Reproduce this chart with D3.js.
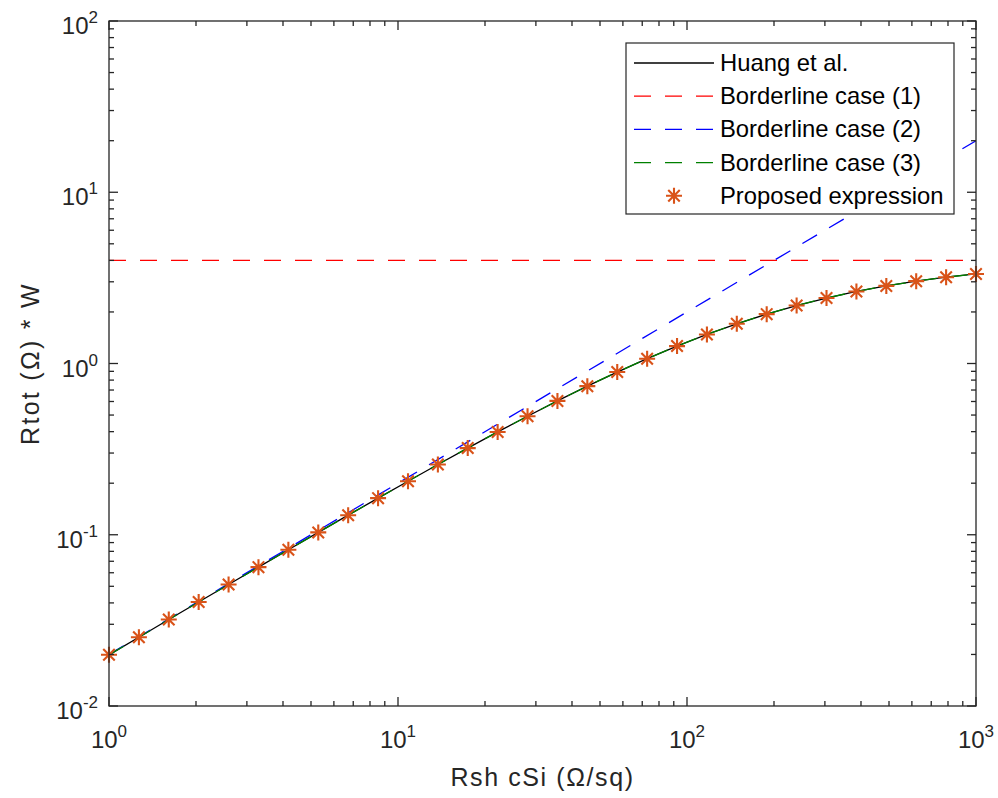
<!DOCTYPE html>
<html><head><meta charset="utf-8">
<script src="https://cdn.jsdelivr.net/npm/d3@7"></script>
<style>body{margin:0;background:#fff}svg{display:block}text{font-family:"Liberation Sans",Arial,sans-serif}</style>
</head><body><svg id="c" width="998" height="798"></svg>
<script>
// Data
const rsh = [1, 1.269, 1.610, 2.043, 2.593, 3.290, 4.175, 5.298, 6.723, 8.532,
  10.83, 13.74, 17.43, 22.12, 28.07, 35.62, 45.20, 57.36, 72.79, 92.37,
  117.2, 148.7, 188.7, 239.5, 303.9, 385.7, 489.4, 621.0, 788.1, 1000];
const huang = [0.0199, 0.0252, 0.0320, 0.0405, 0.0512, 0.0647, 0.0818, 0.1032, 0.1301, 0.1636,
  0.2054, 0.2571, 0.3207, 0.3984, 0.4923, 0.6047, 0.7374, 0.8915, 1.067, 1.264,
  1.478, 1.706, 1.942, 2.180, 2.412, 2.634, 2.839, 3.026, 3.191, 3.333];
const case1X = [1, 1000], case1Y = [4.0, 4.0];
const case2X = [1, 1000], case2Y = [0.02, 20];
const case3 = huang;
const proposed = huang;
const xTicks = [1, 10, 100, 1000], xExp = ["0", "1", "2", "3"];
const yTicks = [0.01, 0.1, 1, 10, 100], yExp = ["-2", "-1", "0", "1", "2"];
const legendLabels = ["Huang et al.", "Borderline case (1)", "Borderline case (2)", "Borderline case (3)", "Proposed expression"];

const L = 109, R = 976, T = 21, B = 706;
const svg = d3.select("#c");
const x = d3.scaleLog().domain([1, 1000]).range([L, R]);
const y = d3.scaleLog().domain([0.01, 100]).range([B, T]);
const axC = "#262626";
const orange = "#D95319";

const minorX = [], minorY = [];
for (let d = 1; d < 1000; d *= 10) for (let k = 2; k <= 9; k++) minorX.push(d * k);
for (let d = 0.01; d < 99; d *= 10) for (let k = 2; k <= 9; k++) minorY.push(d * k);

const g = svg.append("g");
svg.append("clipPath").attr("id", "pc").append("rect").attr("x", L).attr("y", T).attr("width", R - L).attr("height", B - T);
const pg = g.append("g").attr("clip-path", "url(#pc)");
const line = (xs, ys) => d3.line().x((d, i) => x(xs[i])).y((d, i) => y(ys[i]))(xs);
pg.append("path").attr("d", line(rsh, huang)).attr("fill", "none").attr("stroke", "#000").attr("stroke-width", 1.3);
pg.append("path").attr("d", line(case1X, case1Y)).attr("fill", "none").attr("stroke", "#FF0000").attr("stroke-width", 1.3).attr("stroke-dasharray", "17,14");
pg.append("path").attr("d", line(case2X, case2Y)).attr("fill", "none").attr("stroke", "#0000FF").attr("stroke-width", 1.3).attr("stroke-dasharray", "17,14");
pg.append("path").attr("d", line(rsh, case3)).attr("fill", "none").attr("stroke", "#008000").attr("stroke-width", 1.3).attr("stroke-dasharray", "17,14");

function star(sel, cx, cy, r) {
  const a = r * 0.72;
  const s = sel.append("g").attr("stroke", orange).attr("stroke-width", 2.1).attr("fill", "none");
  s.append("path").attr("d", `M${cx - r},${cy}H${cx + r}M${cx},${cy - r}V${cy + r}M${cx - a},${cy - a}L${cx + a},${cy + a}M${cx - a},${cy + a}L${cx + a},${cy - a}`);
}
rsh.forEach((v, i) => star(g, x(v), y(proposed[i]), 8));

g.append("rect").attr("x", L).attr("y", T).attr("width", R - L).attr("height", B - T).attr("fill", "none").attr("stroke", axC).attr("stroke-width", 1.3);
const tk = g.append("g").attr("stroke", axC).attr("stroke-width", 1.3);
xTicks.forEach(v => { tk.append("line").attr("x1", x(v)).attr("x2", x(v)).attr("y1", B).attr("y2", B - 9); tk.append("line").attr("x1", x(v)).attr("x2", x(v)).attr("y1", T).attr("y2", T + 9); });
minorX.forEach(v => { tk.append("line").attr("x1", x(v)).attr("x2", x(v)).attr("y1", B).attr("y2", B - 5); tk.append("line").attr("x1", x(v)).attr("x2", x(v)).attr("y1", T).attr("y2", T + 5); });
yTicks.forEach(v => { tk.append("line").attr("y1", y(v)).attr("y2", y(v)).attr("x1", L).attr("x2", L + 9); tk.append("line").attr("y1", y(v)).attr("y2", y(v)).attr("x1", R).attr("x2", R - 9); });
minorY.forEach(v => { tk.append("line").attr("y1", y(v)).attr("y2", y(v)).attr("x1", L).attr("x2", L + 5); tk.append("line").attr("y1", y(v)).attr("y2", y(v)).attr("x1", R).attr("x2", R - 5); });

xTicks.forEach((v, i) => {
  const t = g.append("text").attr("x", x(v)).attr("y", 748).attr("text-anchor", "middle").attr("fill", axC).attr("font-size", 24);
  t.append("tspan").text("10");
  t.append("tspan").attr("font-size", 17).attr("dy", -11).text(xExp[i]);
});
yTicks.forEach((v, i) => {
  const t = g.append("text").attr("x", 98).attr("y", y(v) + 13).attr("text-anchor", "end").attr("fill", axC).attr("font-size", 24);
  t.append("tspan").text("10");
  t.append("tspan").attr("font-size", 17).attr("dy", -11).text(yExp[i]);
});

g.append("text").attr("x", (L + R) / 2).attr("y", 786).attr("text-anchor", "middle").attr("fill", axC).attr("font-size", 25).attr("letter-spacing", 1.6).text("Rsh cSi (Ω/sq)");
g.append("text").attr("transform", `translate(39,${(T + B) / 2}) rotate(-90)`).attr("text-anchor", "middle").attr("fill", axC).attr("font-size", 25).attr("letter-spacing", 2.3).text("Rtot (Ω) * W");

const lg = g.append("g");
lg.append("rect").attr("x", 626).attr("y", 43).attr("width", 328).attr("height", 171).attr("fill", "#fff").attr("stroke", axC).attr("stroke-width", 1.2);
const lstyles = [["#000", null], ["#FF0000", "17,14"], ["#0000FF", "17,14"], ["#008000", "17,14"]];
legendLabels.forEach((lab, i) => {
  const cy = 63 + i * 33.2;
  if (i < 4) {
    lg.append("line").attr("x1", 634).attr("x2", 714).attr("y1", cy).attr("y2", cy).attr("stroke", lstyles[i][0]).attr("stroke-width", 1.3).attr("stroke-dasharray", lstyles[i][1]);
  } else {
    star(lg, 674, cy, 8);
  }
  lg.append("text").attr("x", 720).attr("y", cy + 8).attr("font-size", 23.8).attr("fill", "#000").text(lab);
});
</script></body></html>
